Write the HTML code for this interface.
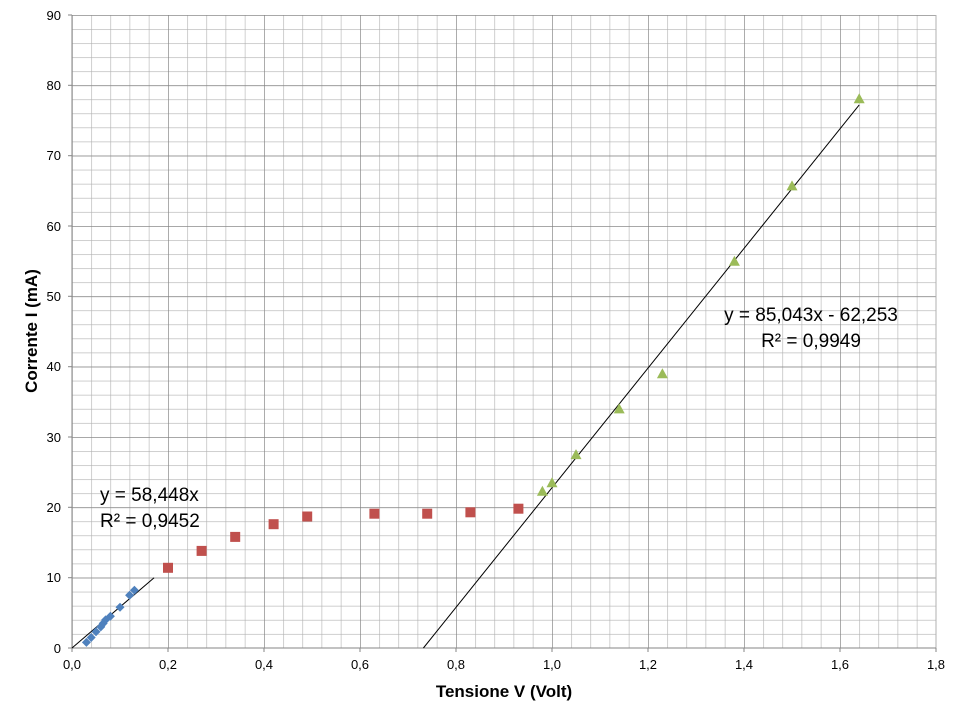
<!DOCTYPE html>
<html><head><meta charset="utf-8"><style>
html,body{margin:0;padding:0;background:#fff}
svg{display:block;font-family:"Liberation Sans",sans-serif}
</style></head><body>
<svg width="960" height="720" viewBox="0 0 960 720">
<defs>
<pattern id="mg" x="72" y="15" width="19.2" height="14.0667" patternUnits="userSpaceOnUse">
<path d="M0 0H19.2M0 0V14.0667" stroke="#b0b0b0" stroke-width="1.2" fill="none"/>
</pattern>
<pattern id="Mg" x="72" y="15" width="96" height="70.333" patternUnits="userSpaceOnUse">
<path d="M0 0H96M0 0V70.333" stroke="#808080" stroke-width="1.2" fill="none"/>
</pattern>
</defs>
<rect x="72" y="15" width="864" height="633" fill="url(#mg)"/>
<rect x="72" y="15" width="864" height="633" fill="url(#Mg)"/>
<line x1="936" y1="15" x2="936" y2="648" stroke="#b0b0b0"/>
<line x1="72" y1="648" x2="936" y2="648" stroke="#868686"/>
<line x1="72" y1="15" x2="72" y2="648" stroke="#868686"/>
<g stroke="#868686">
<line x1="68" y1="15" x2="72" y2="15"/><line x1="68" y1="85.3" x2="72" y2="85.3"/><line x1="68" y1="155.7" x2="72" y2="155.7"/><line x1="68" y1="226" x2="72" y2="226"/><line x1="68" y1="296.3" x2="72" y2="296.3"/><line x1="68" y1="366.7" x2="72" y2="366.7"/><line x1="68" y1="437" x2="72" y2="437"/><line x1="68" y1="507.3" x2="72" y2="507.3"/><line x1="68" y1="577.7" x2="72" y2="577.7"/><line x1="68" y1="648" x2="72" y2="648"/>
<line x1="72" y1="648" x2="72" y2="652"/><line x1="168" y1="648" x2="168" y2="652"/><line x1="264" y1="648" x2="264" y2="652"/><line x1="360" y1="648" x2="360" y2="652"/><line x1="456" y1="648" x2="456" y2="652"/><line x1="552" y1="648" x2="552" y2="652"/><line x1="648" y1="648" x2="648" y2="652"/><line x1="744" y1="648" x2="744" y2="652"/><line x1="840" y1="648" x2="840" y2="652"/><line x1="936" y1="648" x2="936" y2="652"/>
</g>
<g font-size="13" fill="#000" text-anchor="end">
<text x="61" y="20">90</text><text x="61" y="90">80</text><text x="61" y="160">70</text><text x="61" y="231">60</text><text x="61" y="301">50</text><text x="61" y="371">40</text><text x="61" y="442">30</text><text x="61" y="512">20</text><text x="61" y="582">10</text><text x="61" y="653">0</text>
</g>
<g font-size="13" fill="#000" text-anchor="middle">
<text x="72" y="669">0,0</text><text x="168" y="669">0,2</text><text x="264" y="669">0,4</text><text x="360" y="669">0,6</text><text x="456" y="669">0,8</text><text x="552" y="669">1,0</text><text x="648" y="669">1,2</text><text x="744" y="669">1,4</text><text x="840" y="669">1,6</text><text x="936" y="669">1,8</text>
</g>
<text x="504" y="697" font-size="17" font-weight="bold" text-anchor="middle">Tensione V (Volt)</text>
<text transform="translate(37,331) rotate(-90)" font-size="17" font-weight="bold" text-anchor="middle">Corrente I (mA)</text>
<line x1="72" y1="648" x2="154.1" y2="577.7" stroke="#000" stroke-width="1"/>
<line x1="423.4" y1="648" x2="859.2" y2="104.9" stroke="#000" stroke-width="1"/>
<g fill="#4f81bd">
<path d="M86.4 637.9l4.5 4.5-4.5 4.5-4.5-4.5z"/><path d="M91.2 633l4.5 4.5-4.5 4.5-4.5-4.5z"/><path d="M96 627.3l4.5 4.5-4.5 4.5-4.5-4.5z"/><path d="M100.8 622.4l4.5 4.5-4.5 4.5-4.5-4.5z"/><path d="M103.2 618.9l4.5 4.5-4.5 4.5-4.5-4.5z"/><path d="M105.6 615.4l4.5 4.5-4.5 4.5-4.5-4.5z"/><path d="M110.4 611.8l4.5 4.5-4.5 4.5-4.5-4.5z"/><path d="M120 602.7l4.5 4.5-4.5 4.5-4.5-4.5z"/><path d="M129.6 590.7l4.5 4.5-4.5 4.5-4.5-4.5z"/><path d="M134.4 585.8l4.5 4.5-4.5 4.5-4.5-4.5z"/>
</g>
<g fill="#c0504d">
<rect x="163" y="562.8" width="10" height="10"/><rect x="196.6" y="545.9" width="10" height="10"/><rect x="230.2" y="531.9" width="10" height="10"/><rect x="268.6" y="519.2" width="10" height="10"/><rect x="302.2" y="511.5" width="10" height="10"/><rect x="369.4" y="508.7" width="10" height="10"/><rect x="422.2" y="508.7" width="10" height="10"/><rect x="465.4" y="507.3" width="10" height="10"/><rect x="513.4" y="503.7" width="10" height="10"/>
</g>
<g fill="#9bbb59">
<path d="M542.4 485.7l5.5 10h-11z"/><path d="M552 477.2l5.5 10h-11z"/><path d="M576 449.1l5.5 10h-11z"/><path d="M619.2 403.4l5.5 10h-11z"/><path d="M662.4 368.2l5.5 10h-11z"/><path d="M734.4 255.7l5.5 10h-11z"/><path d="M792 180.4l5.5 10h-11z"/><path d="M859.2 93.2l5.5 10h-11z"/>
</g>
<g font-size="19" fill="#000">
<text x="100" y="501">y = 58,448x</text>
<text x="100" y="527">R² = 0,9452</text>
<text x="811" y="321" text-anchor="middle">y = 85,043x - 62,253</text>
<text x="811" y="347" text-anchor="middle">R² = 0,9949</text>
</g>
</svg>
</body></html>
